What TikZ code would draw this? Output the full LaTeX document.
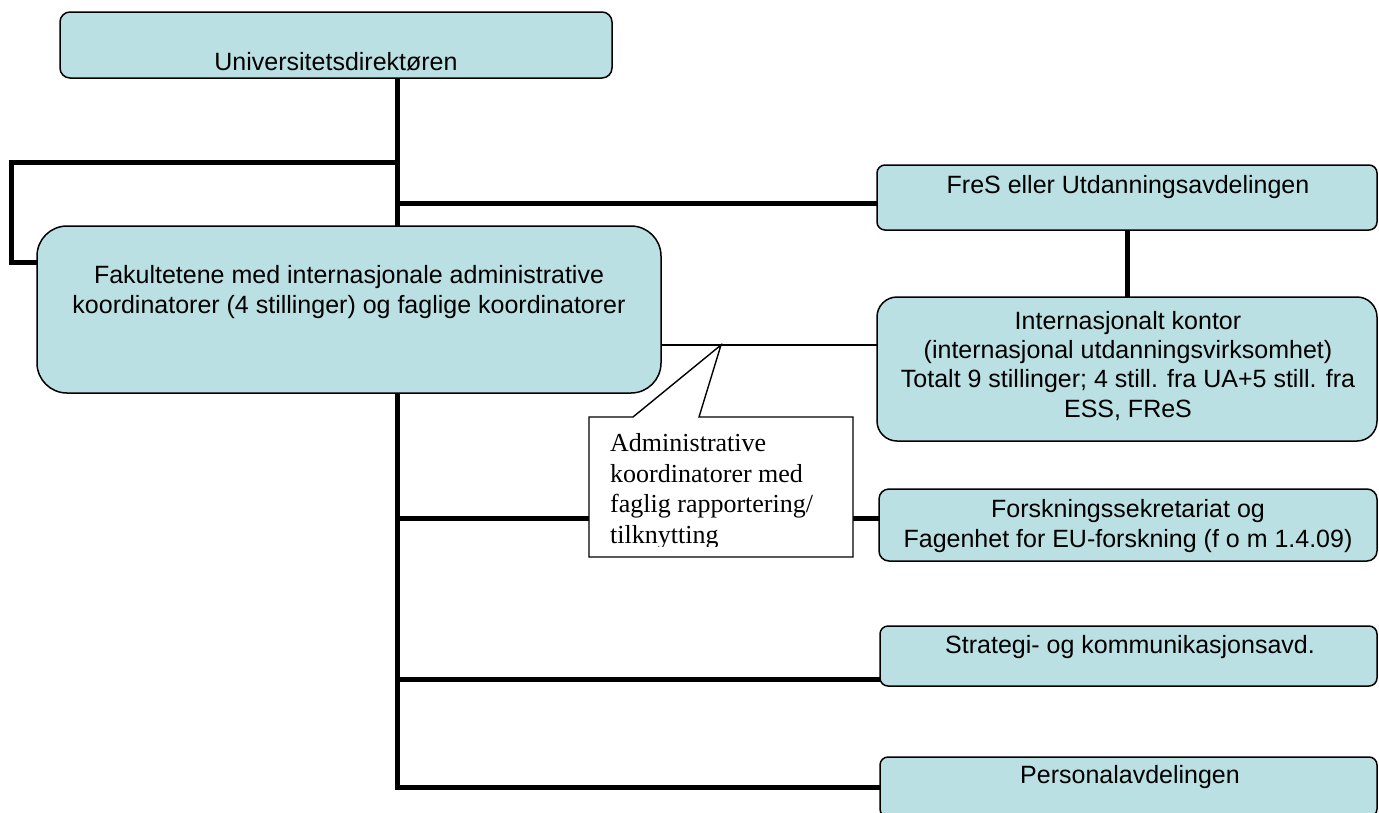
\documentclass[tikz,border=0pt]{standalone}
\usepackage{fontspec}
\setmainfont{Liberation Sans}
\newfontfamily\calloutfont{Liberation Serif}
\usetikzlibrary{calc}
\definecolor{boxfill}{RGB}{187,224,227}
\pgfdeclarelayer{bg}
\pgfsetlayers{bg,main}
\begin{document}
\begin{tikzpicture}[x=1pt,y=-1pt,
  box/.style={draw=black, line width=1.5pt, fill=boxfill, anchor=north west, inner sep=0pt, outer sep=0pt},
  lbl/.style={font=\fontsize{25}{29.3}\selectfont, align=center, anchor=base, inner sep=0pt},
  conn/.style={line width=5pt, black},
  thinconn/.style={line width=1.3pt, black},
  callbox/.style={draw=black, line width=1.4pt, fill=white},
]
\clip (0,0) rectangle (1379,812);
% boxes
\node[box, rounded corners=10pt, minimum width=552pt, minimum height=66pt] (dir) at (60,12) {};
\node[box, rounded corners=30pt, minimum width=624pt, minimum height=167pt] (fak) at (37,226) {};
\node[box, rounded corners=8pt, minimum width=500pt, minimum height=65pt] (fres) at (877,165) {};
\node[box, rounded corners=20pt, minimum width=500pt, minimum height=144pt] (intl) at (877,297) {};
\node[box, rounded corners=10pt, minimum width=498pt, minimum height=72pt] (forsk) at (879,489) {};
\node[box, rounded corners=8pt, minimum width=497pt, minimum height=60pt] (strat) at (880,626) {};
\node[box, rounded corners=8pt, minimum width=497pt, minimum height=60pt] (pers) at (880,757) {};
% texts (base anchor = baseline of the last line)
\node[lbl] (tdir) at (336,70) {Universitetsdirektøren};
\node[lbl] (tfak) at (349,313) {Fakultetene med internasjonale administrative\\koordinatorer (4 stillinger) og faglige koordinatorer};
\node[lbl] (tfres) at (1128,193) {FreS eller Utdanningsavdelingen};
\node[lbl] (tintl) at (1128,417) {Internasjonalt kontor\\(internasjonal utdanningsvirksomhet)\\Totalt 9 stillinger; 4 still. fra UA+5 still. fra\\ESS, FReS};
\node[lbl] (tforsk) at (1128,547) {Forskningssekretariat og\\Fagenhet for EU-forskning (f o m 1.4.09)};
\node[lbl] (tstrat) at (1130,653) {Strategi- og kommunikasjonsavd.};
\node[lbl] (tpers) at (1130,783) {Personalavdelingen};
% connectors
\coordinate (tx) at (397,0);
\coordinate (lp) at (11,162);
\begin{pgfonlayer}{bg}
\fill[white] (0,0) rectangle (1379,812);
\draw[conn] (dir.south -| tx) |- (pers.west);
\draw[conn] (tx |- lp) -- (lp) |- ([yshift=-36pt]fak.north west);
\draw[conn] (tx |- 0,203) -- (fres.west |- 0,203);
\draw[conn] (tx |- 0,518) -- (forsk.west |- 0,518);
\draw[conn] (tx |- 0,679) -- (strat.west |- 0,679);
\draw[conn] (fres.south) -- (intl.north);
\draw[thinconn] (fak.east |- 0,345) -- (intl.west |- 0,345);
\end{pgfonlayer}
% callout
\draw[callbox] (589,417) -- (633,417) -- (721,345) -- (699,417) -- (853,417) -- (853,557) -- (589,557) -- cycle;
\begin{scope}
\clip (589,417) rectangle (853,546);
\node[anchor=base west, inner sep=0pt, align=left, font=\calloutfont\fontsize{26}{30.5}\selectfont] (tcall) at (610,543) {Administrative\\koordinatorer med\\faglig rapportering/\\tilknytting};
\end{scope}
\end{tikzpicture}
\end{document}
